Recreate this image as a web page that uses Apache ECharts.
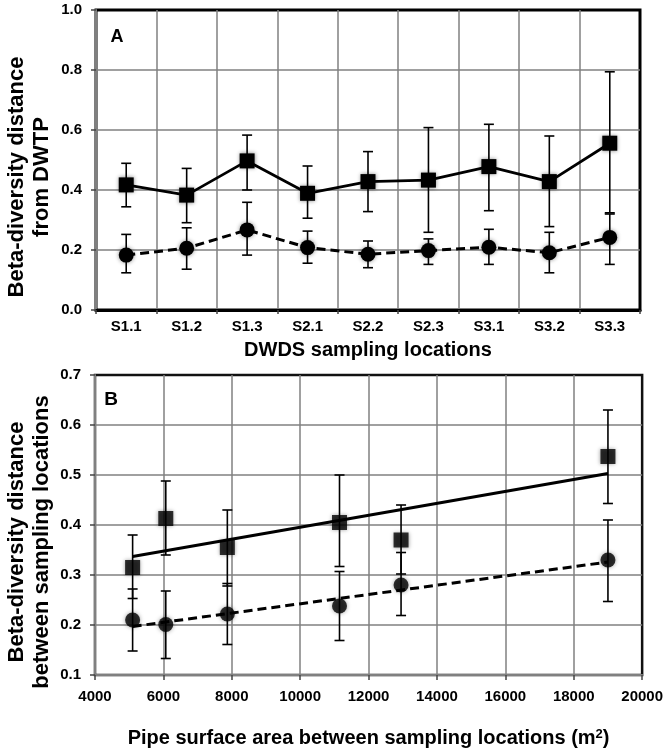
<!DOCTYPE html>
<html>
<head>
<meta charset="utf-8">
<script src="https://cdn.jsdelivr.net/npm/echarts@6/dist/echarts.min.js"></script>
<style>
html,body{margin:0;padding:0;background:#fff;}
#chart{width:666px;height:756px;}
</style>
</head>
<body>
<div id="chart"></div>
<script>
// ---------- Panel A data ----------
const catsA = ['S1.1','S1.2','S1.3','S2.1','S2.2','S2.3','S3.1','S3.2','S3.3'];
const sqA    = [0.417,0.383,0.497,0.389,0.428,0.433,0.478,0.428,0.556];
const sqA_lo = [0.344,0.291,0.400,0.306,0.328,0.259,0.331,0.278,0.324];
const sqA_hi = [0.489,0.472,0.583,0.480,0.528,0.608,0.619,0.580,0.794];
const ciA    = [0.183,0.206,0.267,0.208,0.186,0.198,0.209,0.191,0.242];
const ciA_lo = [0.124,0.136,0.183,0.156,0.141,0.152,0.152,0.124,0.152];
const ciA_hi = [0.252,0.274,0.359,0.263,0.230,0.237,0.269,0.259,0.320];
const yTicksA = [0.0,0.2,0.4,0.6,0.8,1.0];

// ---------- Panel B data ----------
const xB     = [5100, 6070, 7870, 11150, 12950, 19000];
const sqB    = [0.315,0.413,0.355,0.405,0.370,0.537];
const sqB_lo = [0.253,0.340,0.278,0.317,0.302,0.443];
const sqB_hi = [0.380,0.488,0.430,0.500,0.440,0.630];
const ciB    = [0.210,0.201,0.222,0.238,0.280,0.330];
const ciB_lo = [0.148,0.133,0.161,0.169,0.219,0.247];
const ciB_hi = [0.272,0.268,0.283,0.307,0.345,0.410];
const trendSqX = [5100, 19000];
const trendSqY = [0.337, 0.503];
const trendCiX = [5100, 19000];
const trendCiY = [0.197, 0.326];
const xTicksB = [4000,6000,8000,10000,12000,14000,16000,18000,20000];
const yTicksB = [0.1,0.2,0.3,0.4,0.5,0.6,0.7];

const TF = "'Liberation Sans',Arial,sans-serif";
const BF = "'Liberation Sans',Arial,sans-serif";
const GRIDC = '#808080';

function errItem(params, api) {
  const x = api.value(0), lo = api.value(1), hi = api.value(2);
  const a = api.coord([x, lo]), b = api.coord([x, hi]);
  const w = 5;
  const st = {stroke:'#000', lineWidth:1.6};
  return {type:'group', children:[
    {type:'line', shape:{x1:a[0], y1:a[1], x2:b[0], y2:b[1]}, style:st},
    {type:'line', shape:{x1:a[0]-w, y1:a[1], x2:a[0]+w, y2:a[1]}, style:st},
    {type:'line', shape:{x1:b[0]-w, y1:b[1], x2:b[0]+w, y2:b[1]}, style:st}
  ]};
}

const tickLabel = {fontFamily:TF, fontWeight:'bold', fontSize:15, color:'#000'};
const mk = {color:'#000', shadowBlur:4, shadowColor:'rgba(0,0,0,0.45)'};
const split = {show:true, showMaxLine:false, lineStyle:{color:GRIDC, width:1.5}};

const chart = echarts.init(document.getElementById('chart'), null, {renderer:'canvas'});
chart.setOption({
  animation:false,
  backgroundColor:'#fff',
  grid:[
    {left:96, top:10, width:544, height:300, show:true, borderColor:'#000', borderWidth:3, backgroundColor:'transparent'},
    {left:95, top:375, width:549, height:300, show:true, borderColor:'#111', borderWidth:2.5, backgroundColor:'transparent'}
  ],
  xAxis:[
    {type:'category', gridIndex:0, data:catsA, boundaryGap:true,
     axisLine:{lineStyle:{color:'#000', width:3}},
     axisTick:{show:true, length:4, lineStyle:{color:'#444', width:1.5}},
     axisLabel:Object.assign({margin:9, interval:0}, tickLabel),
     splitLine:split,
     name:'DWDS sampling locations', nameLocation:'middle', nameGap:30,
     nameTextStyle:{fontFamily:BF, fontWeight:'bold', fontSize:20, color:'#000'}},
    {type:'value', gridIndex:1, min:4000, max:20000, interval:2000,
     axisLine:{lineStyle:{color:GRIDC, width:2}},
     axisTick:{show:true, length:5, lineStyle:{color:'#444', width:1.5}},
     axisLabel:Object.assign({margin:14, formatter:v=>String(v)}, tickLabel),
     splitLine:split,
     name:'Pipe surface area between sampling locations (m{sup|2})', nameLocation:'middle', nameGap:53,
     nameTextStyle:{fontFamily:BF, fontWeight:'bold', fontSize:20, color:'#000',
       rich:{sup:{fontFamily:BF, fontWeight:'bold', fontSize:13, color:'#000', verticalAlign:'top', padding:[0,0,8,0]}}}}
  ],
  yAxis:[
    {type:'value', gridIndex:0, min:0, max:1, interval:0.2,
     axisLine:{show:true, lineStyle:{color:GRIDC, width:2}},
     axisTick:{show:true, length:5, lineStyle:{color:'#444', width:1.5}},
     axisLabel:Object.assign({margin:14, formatter:v=>v.toFixed(1)}, tickLabel),
     splitLine:split},
    {type:'value', gridIndex:1, min:0.1, max:0.7, interval:0.1,
     axisLine:{show:true, lineStyle:{color:GRIDC, width:2}},
     axisTick:{show:true, length:5, lineStyle:{color:'#444', width:1.5}},
     axisLabel:Object.assign({margin:14, formatter:v=>v.toFixed(1)}, tickLabel),
     splitLine:split}
  ],
  graphic:[
    {type:'text', x:17, y:177, rotation:Math.PI/2,
     style:{text:'Beta-diversity distance', font:"bold 22px 'Liberation Sans',Arial,sans-serif", fill:'#000', align:'center', verticalAlign:'middle'}},
    {type:'text', x:42, y:177, rotation:Math.PI/2,
     style:{text:'from DWTP', font:"bold 22px 'Liberation Sans',Arial,sans-serif", fill:'#000', align:'center', verticalAlign:'middle'}},
    {type:'text', x:17, y:542, rotation:Math.PI/2,
     style:{text:'Beta-diversity distance', font:"bold 22px 'Liberation Sans',Arial,sans-serif", fill:'#000', align:'center', verticalAlign:'middle'}},
    {type:'text', x:42, y:542, rotation:Math.PI/2,
     style:{text:'between sampling locations', font:"bold 22px 'Liberation Sans',Arial,sans-serif", fill:'#000', align:'center', verticalAlign:'middle'}},
    {type:'text', x:117, y:37,
     style:{text:'A', font:"bold 18px 'Liberation Sans',Arial,sans-serif", fill:'#000', align:'center', verticalAlign:'middle'}},
    {type:'text', x:111, y:400,
     style:{text:'B', font:"bold 19px 'Liberation Sans',Arial,sans-serif", fill:'#000', align:'center', verticalAlign:'middle'}}
  ],
  series:[
    {type:'custom', xAxisIndex:0, yAxisIndex:0, z:2, renderItem:errItem,
     data:catsA.map((c,i)=>[i, sqA_lo[i], sqA_hi[i]])},
    {type:'custom', xAxisIndex:0, yAxisIndex:0, z:2, renderItem:errItem,
     data:catsA.map((c,i)=>[i, ciA_lo[i], ciA_hi[i]])},
    {type:'line', xAxisIndex:0, yAxisIndex:0, z:3, data:sqA, symbol:'rect', symbolSize:15,
     itemStyle:mk, lineStyle:{color:'#000', width:2.8, type:'solid'}},
    {type:'line', xAxisIndex:0, yAxisIndex:0, z:3, data:ciA, symbol:'circle', symbolSize:15,
     itemStyle:mk, lineStyle:{color:'#000', width:3, type:[9,5]}},

    {type:'custom', xAxisIndex:1, yAxisIndex:1, z:2, renderItem:errItem,
     data:xB.map((x,i)=>[x, sqB_lo[i], sqB_hi[i]])},
    {type:'custom', xAxisIndex:1, yAxisIndex:1, z:2, renderItem:errItem,
     data:xB.map((x,i)=>[x, ciB_lo[i], ciB_hi[i]])},
    {type:'line', xAxisIndex:1, yAxisIndex:1, z:3, data:trendSqX.map((x,i)=>[x, trendSqY[i]]),
     symbol:'none', lineStyle:{color:'#000', width:2.8, type:'solid'}},
    {type:'line', xAxisIndex:1, yAxisIndex:1, z:3, data:trendCiX.map((x,i)=>[x, trendCiY[i]]),
     symbol:'none', lineStyle:{color:'#000', width:3, type:[9,5]}},
    {type:'scatter', xAxisIndex:1, yAxisIndex:1, z:4, data:xB.map((x,i)=>[x, sqB[i]]),
     symbol:'rect', symbolSize:15, itemStyle:mk},
    {type:'scatter', xAxisIndex:1, yAxisIndex:1, z:4, data:xB.map((x,i)=>[x, ciB[i]]),
     symbol:'circle', symbolSize:15, itemStyle:mk}
  ]
});
</script>
</body>
</html>
